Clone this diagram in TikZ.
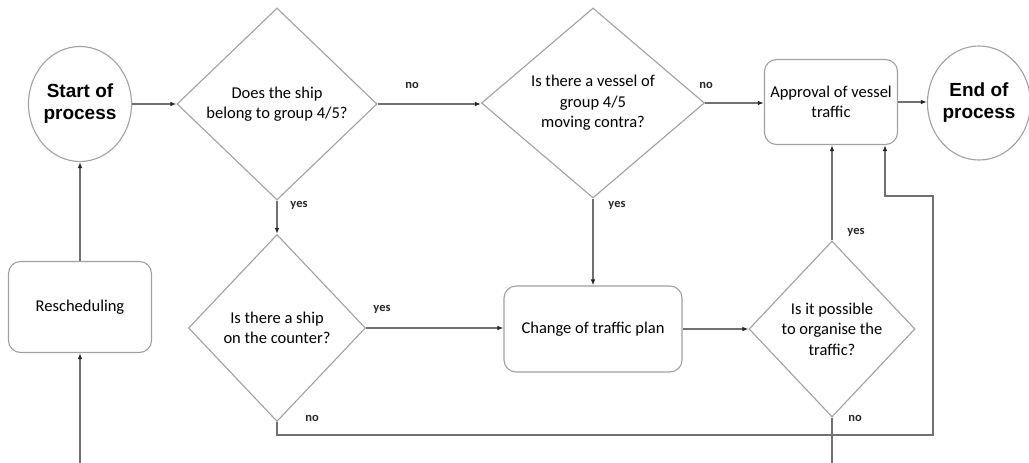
\documentclass[tikz,border=0pt]{standalone}
\usepackage{fontspec}
\setmainfont{Carlito}
\newfontfamily\lsans{Liberation Sans}
\usetikzlibrary{shapes.geometric,arrows.meta}
\definecolor{shapeline}{HTML}{A0A0A0}
\definecolor{conncol}{HTML}{707070}
\begin{document}
\begin{tikzpicture}[x=1pt,y=-1pt,
  box/.style={draw=shapeline, line width=1.1pt, rounded corners=12pt, align=center,
    font=\fontsize{16.5}{20}\selectfont, inner sep=0pt},
  dec/.style={diamond, draw=shapeline, line width=1.1pt, align=center,
    font=\fontsize{16.5}{20.5}\selectfont, inner sep=0pt},
  term/.style={ellipse, draw=shapeline, line width=1.1pt, align=center,
    font=\lsans\bfseries\fontsize{19}{22}\selectfont, inner sep=0pt},
  conn/.style={draw=conncol, line width=1.1pt, -{Latex[length=6pt,width=4.5pt,color=black!85]}},
  plain/.style={draw=conncol, line width=1.1pt},
  lbl/.style={font=\bfseries\fontsize{12.5}{14}\selectfont, text=black!85, inner sep=0pt}]
\useasboundingbox (0,0) rectangle (1029,463);

% nodes
\node[term, minimum width=103pt, minimum height=115pt] (start) at (80,104) {Start of\\process};
\node[term, minimum width=98pt, minimum height=114pt] (end) at (979,103) {End of\\process};
\node[dec, minimum width=200pt, minimum height=192pt] (d1) at (277,104) {Does the ship\\belong to group 4/5?};
\node[dec, minimum width=223pt, minimum height=190pt] (d2) at (593,103) {Is there a vessel of\\group 4/5\\moving contra?};
\node[dec, minimum width=177pt, minimum height=187pt] (d3) at (277,328) {Is there a ship\\on the counter?};
\node[dec, minimum width=166pt, minimum height=176pt] (d4) at (832,329) {Is it possible\\to organise the\\traffic?};
\node[box, minimum width=133pt, minimum height=85pt] (appr) at (831,102) {Approval of vessel\\traffic};
\node[box, minimum width=178pt, minimum height=86pt] (chg) at (593,329) {Change of traffic plan};
\node[box, minimum width=143pt, minimum height=91pt] (resch) at (80,307) {Rescheduling};

% helper coordinates
\coordinate (c1) at (933,435);
\coordinate (c3) at (885,196);
\coordinate (b1) at (80,463);
\coordinate (b4) at (832,463);

% connectors
\draw[conn] (start.east) -- (start.east -| d1.west);
\draw[conn] (d1.east) -- (d1.east -| d2.west);
\draw[conn] (d2.east) -- (d2.east -| appr.west);
\draw[conn] (appr.east) -- (appr.east -| end.west);
\draw[conn] (d1.south) -- (d3.north);
\draw[conn] (d2.south) -- (chg.north);
\draw[conn] (d3.east) -- (d3.east -| chg.west);
\draw[conn] (chg.east) -- (chg.east -| d4.west);
\draw[conn] (d4.north) -- (d4.north |- appr.south);
\draw[conn] (d3.south) |- (c1) |- (c3) -- (c3 |- appr.south);
\draw[plain] (d4.south) -- (b4);
\draw[conn] (b1) -- (resch.south);
\draw[conn] (resch.north) -- (start.south);

% labels
\node[lbl] (l1) at (412,85) {no};
\node[lbl] (l2) at (706,85) {no};
\node[lbl] (l3) at (299,205) {yes};
\node[lbl] (l4) at (617,205) {yes};
\node[lbl] (l5) at (382,309) {yes};
\node[lbl] (l6) at (312,418) {no};
\node[lbl] (l7) at (856,232) {yes};
\node[lbl] (l8) at (855,418) {no};
\end{tikzpicture}
\end{document}
